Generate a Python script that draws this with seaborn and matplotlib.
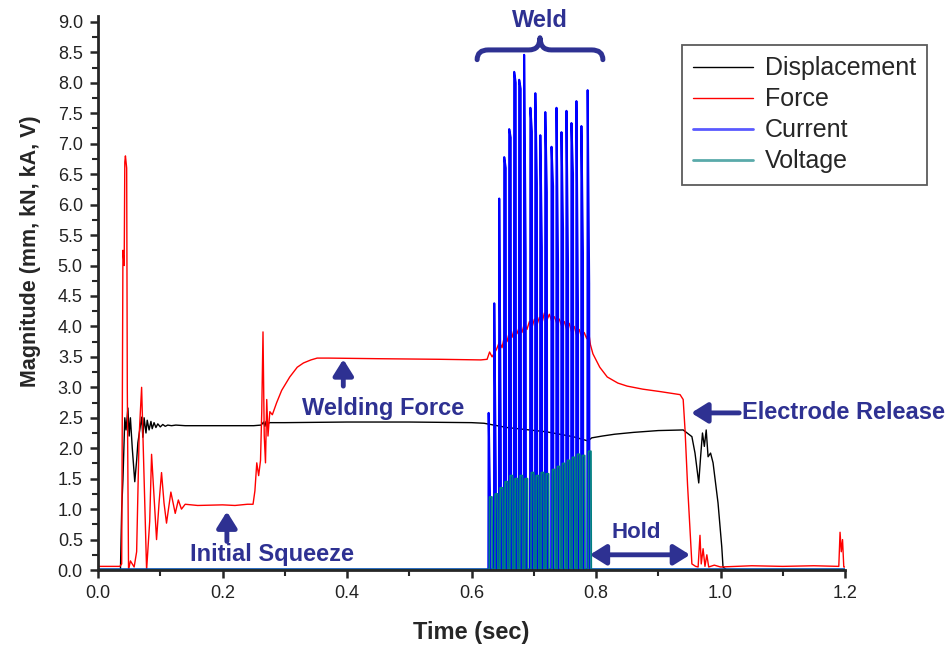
import matplotlib
matplotlib.use("Agg")
import matplotlib.pyplot as plt
from matplotlib.path import Path
from matplotlib.patches import PathPatch
from matplotlib.ticker import MultipleLocator, FormatStrFormatter
import pandas as pd
import seaborn as sns

# ---- data ----
disp_t = [
    0.000, 0.036, 0.038, 0.040, 0.043, 0.045, 0.048, 0.050, 0.052, 0.055,
    0.059, 0.062, 0.064, 0.067, 0.070, 0.072, 0.074, 0.077, 0.079, 0.082,
    0.085, 0.087, 0.090, 0.093, 0.096, 0.100, 0.104, 0.108, 0.112, 0.118,
    0.125, 0.140, 0.160, 0.200, 0.250, 0.262, 0.266, 0.268, 0.270, 0.272,
    0.275, 0.280, 0.300, 0.400, 0.500, 0.600, 0.620, 0.657, 0.720, 0.763,
    0.787, 0.793, 0.810, 0.830, 0.860, 0.900, 0.940, 0.954, 0.959, 0.965,
    0.968, 0.971, 0.974, 0.977, 0.980, 0.984, 0.988, 0.996, 1.002, 1.004,
    1.010, 1.200]
disp_v = [
    0.00, 0.00, 1.00, 1.48, 2.50, 2.30, 2.66, 2.20, 2.50, 2.00,
    1.45, 1.80, 2.09, 2.30, 2.51, 2.18, 2.50, 2.25, 2.46, 2.30,
    2.44, 2.32, 2.42, 2.34, 2.40, 2.35, 2.39, 2.36, 2.38, 2.37,
    2.38, 2.37, 2.37, 2.37, 2.37, 2.38, 2.43, 2.36, 2.44, 2.38,
    2.42, 2.42, 2.42, 2.43, 2.43, 2.42, 2.41, 2.34, 2.27, 2.19,
    2.12, 2.17, 2.20, 2.23, 2.26, 2.29, 2.30, 2.19, 1.92, 1.43,
    1.86, 2.25, 2.03, 2.30, 1.86, 1.92, 1.76, 1.10, 0.38, 0.05,
    0.00, 0.00]

force_t = [
    0.000, 0.035, 0.038, 0.040, 0.042, 0.043, 0.044, 0.046, 0.047, 0.049,
    0.052, 0.058, 0.062, 0.066, 0.070, 0.074, 0.078, 0.083, 0.086, 0.090,
    0.094, 0.098, 0.102, 0.106, 0.110, 0.117, 0.124, 0.129, 0.134, 0.140,
    0.160, 0.200, 0.220, 0.240, 0.249, 0.252, 0.255, 0.258, 0.261, 0.263,
    0.265, 0.267, 0.269, 0.271, 0.273, 0.276, 0.280, 0.287, 0.295, 0.308,
    0.320, 0.330, 0.342, 0.352, 0.370, 0.450, 0.550, 0.615, 0.625, 0.629,
    0.633, 0.640, 0.645, 0.649, 0.653, 0.657, 0.661, 0.665, 0.669, 0.673,
    0.677, 0.681, 0.685, 0.689, 0.693, 0.697, 0.701, 0.705, 0.709, 0.713,
    0.717, 0.721, 0.725, 0.729, 0.733, 0.737, 0.741, 0.745, 0.749, 0.753,
    0.757, 0.761, 0.765, 0.769, 0.773, 0.777, 0.781, 0.785, 0.788, 0.791,
    0.795, 0.800, 0.806, 0.818, 0.835, 0.850, 0.875, 0.903, 0.935, 0.940,
    0.943, 0.947, 0.951, 0.954, 0.960, 0.964, 0.967, 0.969, 0.972, 0.975,
    0.978, 0.981, 0.990, 1.000, 1.050, 1.100, 1.150, 1.190, 1.192, 1.194,
    1.196, 1.198, 1.200]
force_v = [
    0.06, 0.06, 0.10, 5.25, 5.00, 6.70, 6.80, 6.60, 3.00, 0.00,
    0.15, 0.05, 0.30, 2.20, 3.00, 1.50, 0.00, 0.80, 1.90, 1.20,
    0.50, 1.10, 1.60, 1.10, 0.77, 1.28, 0.93, 1.15, 1.00, 1.08,
    1.06, 1.07, 1.06, 1.08, 1.08, 1.30, 1.76, 1.55, 1.80, 2.60,
    3.91, 2.20, 1.76, 2.80, 2.20, 2.60, 2.55, 2.75, 2.95, 3.17,
    3.33, 3.40, 3.45, 3.48, 3.48, 3.47, 3.46, 3.45, 3.46, 3.58,
    3.50, 3.62, 3.75, 3.65, 3.85, 3.75, 3.92, 3.82, 3.98, 3.88,
    4.00, 3.90, 4.05, 3.95, 4.08, 3.98, 4.12, 4.02, 4.15, 4.05,
    4.22, 4.10, 4.20, 4.08, 4.16, 4.05, 4.12, 4.00, 4.08, 3.95,
    4.05, 3.90, 4.00, 3.85, 3.95, 3.82, 3.90, 3.80, 3.92, 3.70,
    3.55, 3.45, 3.33, 3.17, 3.07, 3.02, 2.97, 2.93, 2.88, 2.80,
    2.30, 1.40, 0.66, 0.10, 0.06, 0.05, 0.57, 0.10, 0.35, 0.06,
    0.25, 0.05, 0.08, 0.05, 0.07, 0.06, 0.07, 0.06, 0.62, 0.30,
    0.50, 0.05, 0.05]

# weld pulses: start time, current peak / second edge, voltage level
pulse_t = [0.627, 0.636, 0.644, 0.652, 0.660, 0.668, 0.676, 0.684, 0.694, 0.702,
           0.710, 0.718, 0.728, 0.736, 0.744, 0.752, 0.760, 0.768, 0.776, 0.786]
current_peak = [2.58, 4.38, 6.10, 6.78, 7.24, 8.18, 8.05, 8.46, 7.59, 7.83,
                7.14, 7.52, 6.95, 7.59, 7.19, 7.54, 7.34, 7.70, 7.29, 7.88]
current_edge = [1.00, 1.60, 2.20, 6.60, 7.10, 8.00, 7.90, 5.20, 7.20, 6.35,
                5.30, 6.20, 6.30, 5.00, 5.60, 5.00, 6.50, 4.30, 5.20, 4.70]
voltage_peak = [1.20, 1.25, 1.35, 1.45, 1.55, 1.50, 1.55, 1.50, 1.60, 1.55,
                1.60, 1.58, 1.65, 1.70, 1.75, 1.80, 1.85, 1.90, 1.88, 1.95]

NAVY = "#2e3192"


def pulse_train(times, first, second, offsets, base=0.01):
    t, v = [0.0], [base]
    for t0, a, b in zip(times, first, second):
        t += [t0 + offsets[0], t0 + offsets[1], t0 + offsets[2], t0 + offsets[3]]
        v += [base, a, b, base]
    t.append(1.2)
    v.append(base)
    return pd.DataFrame({"t": t, "v": v})


def block_arrow(ax, tail, head, both=False):
    style = "<|-|>" if both else "-|>"
    ax.annotate("", xy=head, xytext=tail, annotation_clip=False,
                arrowprops=dict(arrowstyle=f"{style},head_length=0.8,head_width=0.5",
                                lw=3.5, color=NAVY, shrinkA=0, shrinkB=0,
                                mutation_scale=12))


sns.set_style("ticks")
plt.rcParams["font.family"] = ["Liberation Sans", "DejaVu Sans"]

fig = plt.figure(figsize=(9.5, 6.54), dpi=100)
ax = fig.add_axes([0.1032, 0.1284, 0.7863, 0.8474])

disp = pd.DataFrame({"t": disp_t, "v": disp_v})
force = pd.DataFrame({"t": force_t, "v": force_v})
current = pulse_train(pulse_t, current_peak, current_edge, (0.0, 0.0005, 0.003, 0.0035))
voltage = pulse_train(pulse_t, voltage_peak, voltage_peak, (0.0015, 0.002, 0.0058, 0.0063))

sns.lineplot(data=disp, x="t", y="v", color="black", lw=1.0, estimator=None,
             sort=False, label="Displacement", ax=ax)
sns.lineplot(data=force, x="t", y="v", color="#ff0000", lw=1.0, estimator=None,
             sort=False, label="Force", ax=ax)
sns.lineplot(data=current, x="t", y="v", color="#0000ff", lw=1.5, estimator=None,
             sort=False, label="Current", ax=ax)
sns.lineplot(data=voltage, x="t", y="v", color="#008080", lw=1.3, estimator=None,
             sort=False, label="Voltage", ax=ax)

ax.set_xlim(0, 1.2)
ax.set_ylim(0, 9.1)
ax.xaxis.set_major_locator(MultipleLocator(0.2))
ax.xaxis.set_minor_locator(MultipleLocator(0.1))
ax.yaxis.set_major_locator(MultipleLocator(0.5))
ax.yaxis.set_minor_locator(MultipleLocator(0.25))
ax.xaxis.set_major_formatter(FormatStrFormatter("%.1f"))
ax.yaxis.set_major_formatter(FormatStrFormatter("%.1f"))
ax.tick_params(which="major", direction="out", length=6, width=1.8,
               labelsize=13, labelcolor="#222222", pad=5)
ax.tick_params(which="minor", direction="out", length=4, width=1.5)
for side in ["top", "right"]:
    ax.spines[side].set_visible(False)
for side in ["left", "bottom"]:
    ax.spines[side].set_linewidth(2)

ax.set_xlabel("Time (sec)", fontsize=17, fontweight="bold")
ax.set_ylabel("Magnitude (mm, kN, kA, V)", fontsize=15.5, fontweight="bold")
ax.xaxis.set_label_coords(0.499, -0.092)
ax.yaxis.set_label_coords(-0.077, 0.576)

leg = ax.legend(loc="upper left", bbox_to_anchor=(0.718, 0.931),
                bbox_transform=fig.transFigure, borderaxespad=0,
                frameon=True, fancybox=False, edgecolor="#333333",
                fontsize=18, handlelength=2.4, handletextpad=0.45,
                labelspacing=0.28, borderpad=0.45)
leg.get_frame().set_linewidth(1.3)
leg_lines = leg.get_lines()
leg_lines[2].set_color("#5a5aff")
leg_lines[2].set_linewidth(2)
leg_lines[3].set_color("#5aaaaa")
leg_lines[3].set_linewidth(2)

# ---- annotations ----
txt = dict(color=NAVY, fontsize=17, fontweight="bold", clip_on=False)
ax.text(0.458, 2.66, "Welding Force", ha="center", va="center", **txt)
block_arrow(ax, (0.394, 3.02), (0.394, 3.46))
ax.text(0.280, 0.25, "Initial Squeeze", ha="center", va="center", **txt)
block_arrow(ax, (0.207, 0.47), (0.207, 0.96))
ax.text(0.710, 9.03, "Weld", ha="center", va="center", **txt)
ax.text(0.864, 0.61, "Hold", ha="center", va="center",
        color=NAVY, fontsize=16, fontweight="bold")
block_arrow(ax, (0.790, 0.25), (0.951, 0.25), both=True)
ax.text(1.0345, 2.58, "Electrode Release", ha="left", va="center", **txt)
block_arrow(ax, (1.030, 2.58), (0.953, 2.58))

brace = Path(
    [(0.609, 8.38), (0.609, 8.54), (0.627, 8.54), (0.692, 8.54),
     (0.710, 8.54), (0.710, 8.74), (0.710, 8.54), (0.728, 8.54),
     (0.793, 8.54), (0.811, 8.54), (0.811, 8.38)],
    [Path.MOVETO, Path.CURVE3, Path.CURVE3, Path.LINETO,
     Path.CURVE3, Path.CURVE3, Path.CURVE3, Path.CURVE3,
     Path.LINETO, Path.CURVE3, Path.CURVE3])
ax.add_patch(PathPatch(brace, fill=False, edgecolor=NAVY, lw=3.6,
                       capstyle="round", joinstyle="round", clip_on=False))

fig.savefig("out.png", dpi=100)
